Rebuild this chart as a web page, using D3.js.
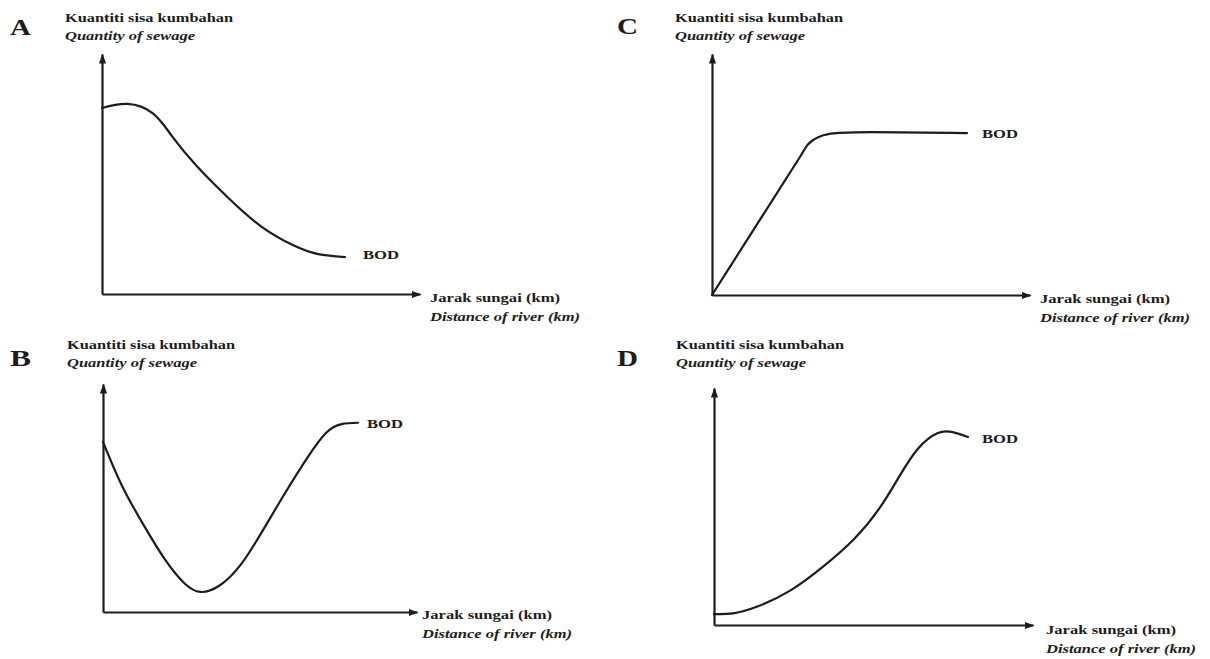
<!DOCTYPE html>
<html>
<head>
<meta charset="utf-8">
<script src="https://cdn.jsdelivr.net/npm/d3@7"></script>
<style>
  html, body { margin: 0; padding: 0; background: #fff; }
  svg { display: block; }
</style>
</head>
<body>
<svg id="chart" width="1210" height="659"></svg>
<script>
// ---------- DATA (distance 0-100, quantity of sewage 0-100, schematic units) ----------
const panelIds = ["A", "B", "C", "D"];
const yTitleMs = "Kuantiti sisa kumbahan";
const yTitleEn = "Quantity of sewage";
const xTitleMs = "Jarak sungai (km)";
const xTitleEn = "Distance of river (km)";
const seriesName = "BOD";

const distanceA = [0, 8, 16, 22, 30, 40, 50, 60, 68, 76.4];
const bodA      = [77.5, 79.2, 75.3, 65.8, 53, 39.7, 28.2, 20.4, 16.6, 15.4];

const distanceB = [0, 6, 13, 20, 26, 31, 37, 44, 51, 58, 65, 71, 76, 81.2];
const bodB      = [74.6, 55.5, 38, 22.5, 12.5, 8.8, 11.5, 21, 36, 52.2, 67.5, 78.5, 82.4, 83];

const distanceC = [0, 14, 28, 30, 32, 35, 40, 50, 80.2];
const bodC      = [0, 29, 58, 62.2, 64.5, 66.3, 67.3, 67.6, 67.2];

const distanceD = [0, 6, 14, 24, 34, 44, 52, 58, 64, 70, 74.5, 79.6];
const bodD      = [4.6, 4.9, 8.0, 14.6, 24.4, 36.4, 49.5, 62.5, 74.5, 80.9, 81.5, 79.3];

const distances = { A: distanceA, B: distanceB, C: distanceC, D: distanceD };
const bods = { A: bodA, B: bodB, C: bodC, D: bodD };

// ---------- LAYOUT ----------
const layout = {
  A: { x0: 102, x1: 420, y0: 294, y1: 54,  letter: [10, 35],  ytitle: [65, 22],  xtitle: [430, 302], bod: [363, 259], curve: "natural" },
  B: { x0: 103, x1: 417, y0: 612, y1: 384, letter: [10, 366], ytitle: [67, 349], xtitle: [422, 619], bod: [367, 428], curve: "natural" },
  C: { x0: 712, x1: 1030, y0: 295, y1: 54, letter: [617, 34], ytitle: [675, 22], xtitle: [1040, 303], bod: [982, 138], curve: "monotone" },
  D: { x0: 714, x1: 1033, y0: 625, y1: 388, letter: [617, 366], ytitle: [676, 349], xtitle: [1046, 634], bod: [982, 443], curve: "natural" }
};

const ink = "#1c1c1c";
const fontFam = "'Liberation Serif', 'Times New Roman', Times, serif";
const svg = d3.select("#chart");

svg.append("defs").append("marker")
  .attr("id", "arrow")
  .attr("viewBox", "0 -4 10 8")
  .attr("refX", 9).attr("refY", 0)
  .attr("markerUnits", "userSpaceOnUse")
  .attr("markerWidth", 10).attr("markerHeight", 8)
  .attr("orient", "auto")
  .append("path").attr("d", "M0,-3.6L10,0L0,3.6Z").attr("fill", ink);

function label(g, x, y, str, size, width, italic) {
  g.append("text").attr("x", x).attr("y", y)
    .attr("font-family", fontFam)
    .attr("font-weight", "bold")
    .attr("font-style", italic ? "italic" : "normal")
    .attr("font-size", size)
    .attr("fill", ink)
    .attr("textLength", width).attr("lengthAdjust", "spacingAndGlyphs")
    .text(str);
}

panelIds.forEach(id => {
  const L = layout[id];
  const x = d3.scaleLinear().domain([0, 100]).range([L.x0, L.x1]);
  const y = d3.scaleLinear().domain([0, 100]).range([L.y0, L.y1]);
  const g = svg.append("g");

  // axes (domain lines only, with arrowheads)
  const gx = g.append("g").attr("transform", `translate(0,${L.y0})`)
    .call(d3.axisBottom(x).tickValues([]).tickSizeOuter(0));
  const gy = g.append("g").attr("transform", `translate(${L.x0},0)`)
    .call(d3.axisLeft(y).tickValues([]).tickSizeOuter(0));
  [gx, gy].forEach(a => a.select(".domain")
    .attr("stroke", ink).attr("stroke-width", 2.2)
    .attr("marker-end", "url(#arrow)"));

  // curve
  const pts = distances[id].map((d, i) => [d, bods[id][i]]);
  const line = d3.line()
    .x(d => x(d[0])).y(d => y(d[1]))
    .curve(L.curve === "monotone" ? d3.curveMonotoneX : d3.curveNatural);
  g.append("path").datum(pts)
    .attr("d", line).attr("fill", "none")
    .attr("stroke", ink).attr("stroke-width", 2.2)
    .attr("stroke-linecap", "round").attr("stroke-linejoin", "round");

  label(g, L.letter[0], L.letter[1], id, 23, 21, false);
  label(g, L.ytitle[0], L.ytitle[1], yTitleMs, 13.5, 168, false);
  label(g, L.ytitle[0], L.ytitle[1] + 18, yTitleEn, 13.5, 130, true);
  label(g, L.xtitle[0], L.xtitle[1], xTitleMs, 13.5, 130, false);
  label(g, L.xtitle[0], L.xtitle[1] + 18.5, xTitleEn, 13.5, 150, true);
  label(g, L.bod[0], L.bod[1], seriesName, 13.5, 36, false);
});
</script>
</body>
</html>
